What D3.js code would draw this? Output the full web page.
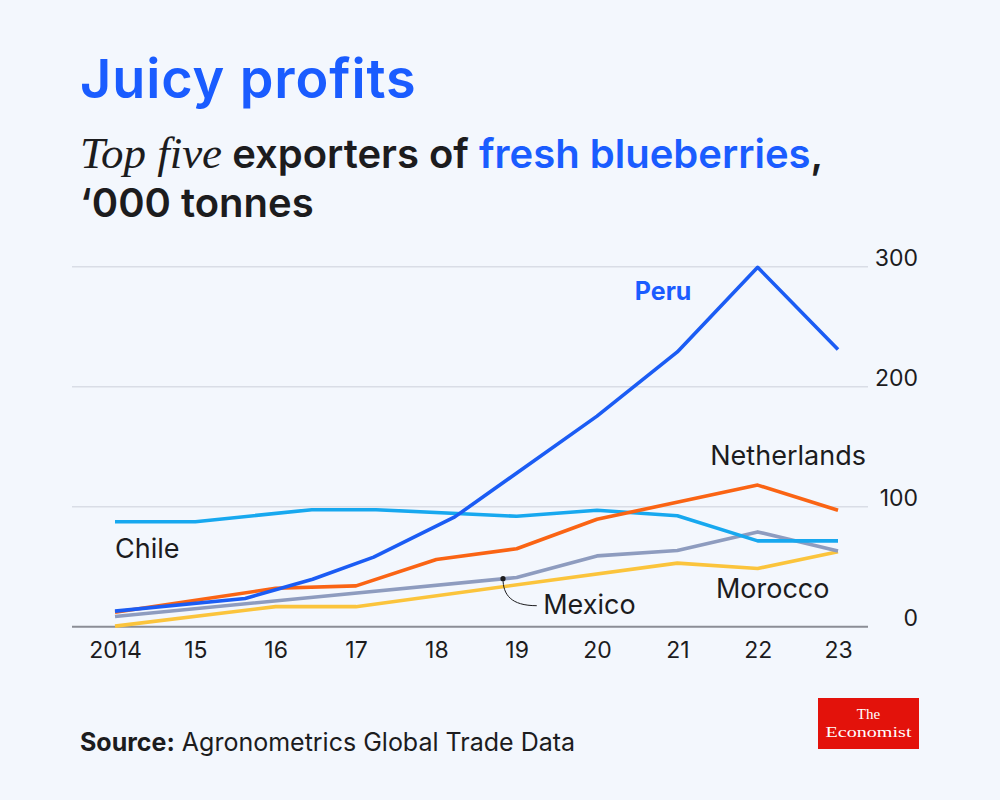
<!DOCTYPE html>
<html>
<head>
<meta charset="utf-8">
<script src="https://cdn.jsdelivr.net/npm/d3@7"></script>
<style>
  html, body { margin: 0; padding: 0; background: #f3f7fd; }
  svg { display: block; }
</style>
</head>
<body>
<svg id="chart" width="1000" height="800" font-family="Inter, 'Open Sans', sans-serif"></svg>
<script>
// ---------- data ----------
const tickYears = [2014, 2015, 2016, 2017, 2018, 2019, 2020, 2021, 2022, 2023];
const tickLabels = ["2014", "15", "16", "17", "18", "19", "20", "21", "22", "23"];
const yTicks = [0, 100, 200, 300];

const peruYears   = [2014, 2015.62, 2016.46, 2017.22, 2018.23, 2020, 2021, 2022, 2023];
const peruValues  = [13, 23.5, 39.5, 58, 91.5, 175.5, 229, 299.5, 231];

const chileYears  = [2014, 2015, 2016.45, 2017.25, 2019, 2020, 2021, 2022, 2023];
const chileValues = [87.5, 87.5, 97.5, 97.5, 92, 97, 92.5, 71.5, 71.5];

const nethYears   = [2014, 2016, 2017, 2018, 2019, 2020, 2022, 2023];
const nethValues  = [12, 32, 34, 56, 65, 89.5, 118, 97];

const mexYears    = [2014, 2019, 2020, 2021, 2022, 2023];
const mexValues   = [8.5, 41, 59, 63.5, 79, 63];

const morYears    = [2014, 2016, 2017, 2021, 2022, 2023];
const morValues   = [0.5, 16.7, 16.7, 53, 48.5, 62.5];

const seriesNames = ["Morocco", "Mexico", "Chile", "Netherlands", "Peru"];

// ---------- build series ----------
const zip = (xs, vs) => xs.map((x, i) => ({ year: x, value: vs[i] }));
const series = [
  { name: "Morocco",     color: "#fbc43c", pts: zip(morYears, morValues) },
  { name: "Mexico",      color: "#8e9cbf", pts: zip(mexYears, mexValues) },
  { name: "Chile",       color: "#17a8ef", pts: zip(chileYears, chileValues) },
  { name: "Netherlands", color: "#fa6414", pts: zip(nethYears, nethValues) },
  { name: "Peru",        color: "#1b5cf4", pts: zip(peruYears, peruValues) }
];

const BLUE = "#1a5cff";
const INK = "#1c1c1e";
const SERIF = "'Liberation Serif', 'DejaVu Serif', serif";

const svg = d3.select("#chart");
svg.append("rect").attr("width", 1000).attr("height", 800).attr("fill", "#f3f7fd");

// ---------- titles ----------
svg.append("text").attr("x", 80).attr("y", 98)
  .attr("font-size", 54).attr("font-weight", 600).attr("fill", BLUE)
  .attr("letter-spacing", 0.9)
  .text("Juicy profits");

const sub1 = svg.append("text").attr("x", 80).attr("y", 168)
  .attr("font-size", 40).attr("font-weight", 600).attr("fill", INK);
sub1.append("tspan").attr("font-family", SERIF).attr("font-style", "italic")
  .attr("font-weight", 400).attr("font-size", 45).text("Top five");
sub1.append("tspan").text(" exporters of ");
sub1.append("tspan").attr("fill", BLUE).text("fresh blueberries");
sub1.append("tspan").text(",");

svg.append("text").attr("x", 80).attr("y", 217)
  .attr("font-size", 40).attr("font-weight", 600).attr("fill", INK)
  .text("\u2018000 tonnes");

// ---------- scales ----------
const x = d3.scaleLinear().domain([2014, 2023]).range([115, 838]);
const y = d3.scaleLinear().domain([0, 300]).range([626.7, 266.7]);
const gridX0 = 72, gridX1 = 868;

// gridlines
const g = svg.append("g");
g.selectAll("line.grid").data(yTicks.filter(d => d > 0)).join("line")
  .attr("x1", gridX0).attr("x2", gridX1)
  .attr("y1", d => y(d)).attr("y2", d => y(d))
  .attr("stroke", "#d9dde6").attr("stroke-width", 1.5);
g.append("line").attr("x1", gridX0).attr("x2", gridX1)
  .attr("y1", y(0)).attr("y2", y(0))
  .attr("stroke", "#8b8e96").attr("stroke-width", 2);

// y-axis labels (right)
const yAxis = d3.axisRight(y).tickValues(yTicks).tickSize(0).tickFormat(d3.format("d"));
const ya = svg.append("g").attr("transform", "translate(918,0)").call(yAxis);
ya.select(".domain").remove();
ya.selectAll("text").attr("x", 0).attr("dy", "-0.05em").attr("text-anchor", "end")
  .attr("font-size", 23).attr("font-family", "Inter, sans-serif").attr("fill", INK);

// x-axis labels
const xAxis = d3.axisBottom(x).tickValues(tickYears).tickSize(0)
  .tickFormat((d, i) => tickLabels[i]);
const xa = svg.append("g").attr("transform", `translate(0,${y(0)})`).call(xAxis);
xa.select(".domain").remove();
xa.selectAll("text").attr("y", 31).attr("dy", 0)
  .attr("font-size", 23).attr("font-family", "Inter, sans-serif").attr("fill", INK);

// ---------- lines ----------
const line = d3.line().x(d => x(d.year)).y(d => y(d.value));
svg.append("g").selectAll("path").data(series).join("path")
  .attr("d", d => line(d.pts))
  .attr("fill", "none").attr("stroke", d => d.color)
  .attr("stroke-width", 3.6).attr("stroke-linejoin", "round");

// ---------- line labels ----------
const lab = svg.append("g").attr("font-size", 27).attr("fill", INK);
lab.append("text").attr("x", x(2020.47)).attr("y", y(272))
  .attr("font-weight", 700).attr("font-size", 25).attr("fill", BLUE).text("Peru");
lab.append("text").attr("x", x(2021.41)).attr("y", y(135)).text("Netherlands");
lab.append("text").attr("x", x(2014)).attr("y", y(57)).text("Chile");
lab.append("text").attr("x", x(2019.33)).attr("y", y(11)).text("Mexico");
lab.append("text").attr("x", x(2021.48)).attr("y", y(24)).text("Morocco");

// Mexico annotation
const ax = x(2018.83), ay = y(40);
const tx = x(2019.25), ty = y(17.5);
svg.append("path")
  .attr("d", `M${ax},${ay} C${ax},${ay + 16} ${ax + 8},${ty} ${tx},${ty}`)
  .attr("fill", "none").attr("stroke", INK).attr("stroke-width", 1);
svg.append("circle").attr("cx", ax).attr("cy", ay).attr("r", 2.6).attr("fill", INK);

// ---------- footer ----------
const src = svg.append("text").attr("x", 80).attr("y", 751).attr("font-size", 25).attr("fill", INK);
src.append("tspan").attr("font-weight", 700).text("Source:");
src.append("tspan").text(" Agronometrics Global Trade Data");

const logo = svg.append("g").attr("transform", "translate(818,698)");
logo.append("rect").attr("width", 101).attr("height", 51).attr("fill", "#e3120b");
logo.append("text").attr("x", 50.5).attr("y", 20.5).attr("text-anchor", "middle")
  .attr("font-family", SERIF).attr("font-size", 15).attr("fill", "#fff").text("The");
logo.append("text").attr("x", 50.5).attr("y", 38.5).attr("text-anchor", "middle")
  .attr("font-family", SERIF).attr("font-size", 15).attr("fill", "#fff")
  .attr("textLength", 86).attr("lengthAdjust", "spacingAndGlyphs").text("Economist");
</script>
</body>
</html>
